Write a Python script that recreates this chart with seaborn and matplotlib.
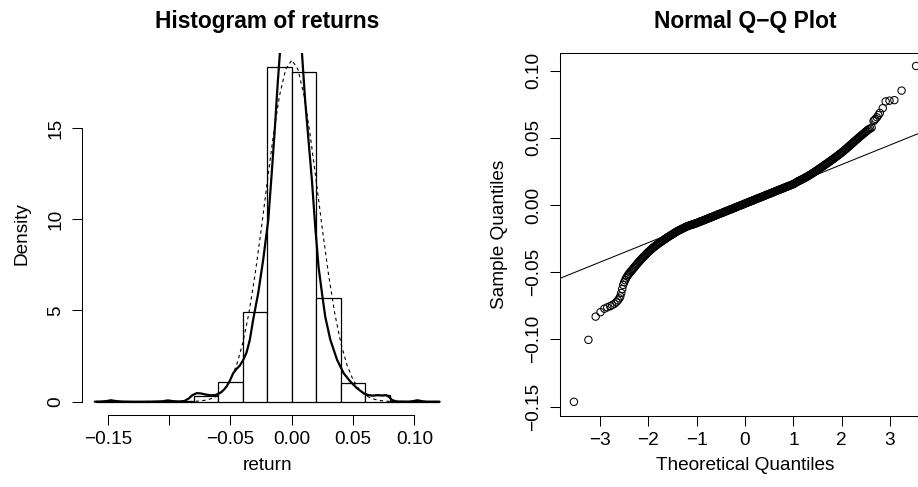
import matplotlib
matplotlib.use("Agg")
import matplotlib.pyplot as plt
import seaborn as sns

# =========================
# Data
# =========================
# histogram of returns: density per 0.02 bin
bin_edges = [-0.16, -0.14, -0.12, -0.10, -0.08, -0.06, -0.04, -0.02,
             0.00, 0.02, 0.04, 0.06, 0.08, 0.10, 0.12]
bin_mids = [-0.15, -0.13, -0.11, -0.09, -0.07, -0.05, -0.03, -0.01,
            0.01, 0.03, 0.05, 0.07, 0.09, 0.11]
bin_density = [0.02, 0.0, 0.02, 0.02, 0.33, 1.06, 4.93, 18.37,
               18.06, 5.67, 1.04, 0.37, 0.02, 0.02]

# kernel density estimate (solid line)
kde_x = [-0.1607, -0.155, -0.1505, -0.1475, -0.144, -0.139, -0.130, -0.115,
         -0.106, -0.101, -0.097, -0.092, -0.0875, -0.084, -0.081, -0.0775,
         -0.074, -0.070, -0.066, -0.062, -0.058, -0.0555, -0.0533, -0.0505,
         -0.0479, -0.045, -0.0424, -0.0395, -0.0369, -0.0342, -0.0315, -0.0274,
         -0.0233, -0.0192, -0.0164, -0.0137, -0.0115, -0.0096, -0.007, -0.004,
         -0.001, 0.002, 0.005, 0.0082, 0.0109, 0.0136, 0.0164, 0.0191,
         0.0218, 0.0246, 0.0273, 0.0314, 0.0369, 0.0423, 0.0478, 0.0533,
         0.0587, 0.0620, 0.066, 0.070, 0.074, 0.077, 0.0795, 0.082,
         0.086, 0.095, 0.099, 0.1025, 0.106, 0.110, 0.1205]
kde_y = [0.0, 0.01, 0.04, 0.08, 0.04, 0.01, 0.0, 0.0,
         0.02, 0.07, 0.03, 0.01, 0.04, 0.18, 0.36, 0.47,
         0.45, 0.39, 0.35, 0.37, 0.50, 0.65, 0.82, 1.15,
         1.55, 1.80, 1.98, 2.30, 2.70, 3.40, 4.50, 5.95,
         7.80, 9.95, 12.5, 15.1, 17.45, 19.2, 21.4, 23.0,
         23.6, 23.4, 22.0, 19.2, 16.5, 14.35, 12.15, 9.6,
         7.4, 5.95, 4.65, 3.4, 2.3, 1.56, 1.10, 0.73,
         0.46, 0.37, 0.33, 0.36, 0.34, 0.36, 0.25, 0.08,
         0.01, 0.0, 0.03, 0.08, 0.03, 0.0, 0.0]

# fitted normal density (dashed line)
norm_x = [-0.16, -0.09, -0.08, -0.075, -0.07, -0.065, -0.06, -0.055, -0.05,
          -0.045, -0.04, -0.035, -0.03, -0.025, -0.02, -0.015, -0.01, -0.005,
          0.0, 0.005, 0.01, 0.015, 0.02, 0.025, 0.03, 0.035, 0.04, 0.045,
          0.05, 0.055, 0.06, 0.065, 0.07, 0.075, 0.08, 0.09, 0.12]
norm_y = [0.0, 0.002, 0.016, 0.038, 0.085, 0.18, 0.35, 0.67, 1.19,
          2.01, 3.21, 4.85, 6.95, 9.41, 12.05, 14.62, 16.78, 18.22,
          18.73, 18.22, 16.78, 14.62, 12.05, 9.41, 6.95, 4.85, 3.21, 2.01,
          1.19, 0.67, 0.35, 0.18, 0.085, 0.038, 0.016, 0.002, 0.0]

# normal Q-Q plot: theoretical vs sample quantiles
qq_theoretical = [
    -3.54, -3.24, -3.09, -2.99, -2.91, -2.85, -2.79, -2.75, -2.70, -2.66,
    -2.63, -2.60, -2.58, -2.56, -2.54, -2.52, -2.50, -2.48, -2.46, -2.44,
    -2.42, -2.40, -2.38, -2.36, -2.34, -2.32,
    -2.30, -2.28, -2.26, -2.24, -2.22, -2.20, -2.18, -2.16, -2.14, -2.12,
    -2.10, -2.08, -2.06, -2.04, -2.02, -2.00, -1.98, -1.96, -1.94, -1.92,
    -1.90, -1.88, -1.86, -1.84, -1.82, -1.80, -1.78, -1.76, -1.74, -1.72,
    -1.70, -1.68, -1.66, -1.64, -1.62, -1.60, -1.58, -1.56, -1.54, -1.52,
    -1.50, -1.48, -1.46, -1.44, -1.42, -1.40, -1.38, -1.36, -1.34, -1.32,
    -1.30, -1.28, -1.26, -1.24, -1.22, -1.20, -1.18, -1.16, -1.14, -1.12,
    -1.10, -1.08, -1.06, -1.04, -1.02, -1.00, -0.98, -0.96, -0.94, -0.92,
    -0.90, -0.88, -0.86, -0.84, -0.82, -0.80, -0.78, -0.76, -0.74, -0.72,
    -0.70, -0.68, -0.66, -0.64, -0.62, -0.60, -0.58, -0.56, -0.54, -0.52,
    -0.50, -0.48, -0.46, -0.44, -0.42, -0.40, -0.38, -0.36, -0.34, -0.32,
    -0.30, -0.28, -0.26, -0.24, -0.22, -0.20, -0.18, -0.16, -0.14, -0.12,
    -0.10, -0.08, -0.06, -0.04, -0.02, 0.00, 0.02, 0.04, 0.06, 0.08,
    0.10, 0.12, 0.14, 0.16, 0.18, 0.20, 0.22, 0.24, 0.26, 0.28,
    0.30, 0.32, 0.34, 0.36, 0.38, 0.40, 0.42, 0.44, 0.46, 0.48,
    0.50, 0.52, 0.54, 0.56, 0.58, 0.60, 0.62, 0.64, 0.66, 0.68,
    0.70, 0.72, 0.74, 0.76, 0.78, 0.80, 0.82, 0.84, 0.86, 0.88,
    0.90, 0.92, 0.94, 0.96, 0.98, 1.00, 1.02, 1.04, 1.06, 1.08,
    1.10, 1.12, 1.14, 1.16, 1.18, 1.20, 1.22, 1.24, 1.26, 1.28,
    1.30, 1.32, 1.34, 1.36, 1.38, 1.40, 1.42, 1.44, 1.46, 1.48,
    1.50, 1.52, 1.54, 1.56, 1.58, 1.60, 1.62, 1.64, 1.66, 1.68,
    1.70, 1.72, 1.74, 1.76, 1.78, 1.80, 1.82, 1.84, 1.86, 1.88,
    1.90, 1.92, 1.94, 1.96, 1.98, 2.00, 2.02, 2.04, 2.06, 2.08,
    2.10, 2.12, 2.14, 2.16, 2.18, 2.20, 2.22, 2.24, 2.26, 2.28,
    2.30, 2.32, 2.34, 2.36, 2.38, 2.40, 2.42, 2.44, 2.46, 2.48,
    2.50, 2.52, 2.54, 2.56,
    2.59, 2.62, 2.66, 2.68, 2.70, 2.73, 2.76, 2.79, 2.85, 2.91,
    2.99, 3.09, 3.24, 3.54]
qq_sample = [
    -0.1465, -0.1004, -0.0831, -0.0798, -0.0772, -0.0762, -0.0753, -0.0745, -0.0735, -0.0722,
    -0.0710, -0.0695, -0.0680, -0.0655, -0.0625, -0.0595, -0.0575, -0.0560, -0.0545, -0.0532,
    -0.0522, -0.0512, -0.0502, -0.0494, -0.0486, -0.0477,
    -0.0468, -0.0459, -0.0451, -0.0442, -0.0434, -0.0425, -0.0417, -0.0409, -0.0402, -0.0394,
    -0.0386, -0.0379, -0.0372, -0.0364, -0.0357, -0.0350, -0.0344, -0.0337, -0.0331, -0.0324,
    -0.0318, -0.0312, -0.0307, -0.0301, -0.0296, -0.0290, -0.0285, -0.0280, -0.0275, -0.0270,
    -0.0265, -0.0260, -0.0255, -0.0250, -0.0245, -0.0240, -0.0236, -0.0231, -0.0227, -0.0222,
    -0.0218, -0.0213, -0.0209, -0.0204, -0.0200, -0.0195, -0.0191, -0.0188, -0.0184, -0.0181,
    -0.0177, -0.0173, -0.0170, -0.0166, -0.0163, -0.0159, -0.0157, -0.0154, -0.0152, -0.0149,
    -0.0147, -0.0145, -0.0142, -0.0140, -0.0137, -0.0135, -0.0132, -0.0129, -0.0126, -0.0123,
    -0.0120, -0.0118, -0.0115, -0.0112, -0.0109, -0.0106, -0.0103, -0.0100, -0.0097, -0.0094,
    -0.0092, -0.0089, -0.0086, -0.0083, -0.0080, -0.0077, -0.0074, -0.0071, -0.0068, -0.0065,
    -0.0063, -0.0060, -0.0057, -0.0054, -0.0051, -0.0048, -0.0045, -0.0042, -0.0039, -0.0036,
    -0.0034, -0.0031, -0.0028, -0.0025, -0.0022, -0.0019, -0.0016, -0.0013, -0.0010, -0.0007,
    -0.0005, -0.0002, 0.0001, 0.0004, 0.0007, 0.0010, 0.0013, 0.0016, 0.0019, 0.0022,
    0.0025, 0.0027, 0.0030, 0.0033, 0.0036, 0.0039, 0.0042, 0.0045, 0.0048, 0.0051,
    0.0054, 0.0056, 0.0059, 0.0062, 0.0065, 0.0068, 0.0071, 0.0074, 0.0077, 0.0080,
    0.0083, 0.0085, 0.0088, 0.0091, 0.0094, 0.0097, 0.0100, 0.0103, 0.0106, 0.0109,
    0.0112, 0.0114, 0.0117, 0.0120, 0.0123, 0.0126, 0.0129, 0.0132, 0.0135, 0.0138,
    0.0141, 0.0143, 0.0146, 0.0149, 0.0152, 0.0155, 0.0159, 0.0163, 0.0168, 0.0172,
    0.0176, 0.0180, 0.0183, 0.0187, 0.0190, 0.0194, 0.0198, 0.0202, 0.0206, 0.0210,
    0.0214, 0.0218, 0.0223, 0.0227, 0.0232, 0.0236, 0.0241, 0.0246, 0.0250, 0.0255,
    0.0260, 0.0265, 0.0270, 0.0275, 0.0280, 0.0285, 0.0290, 0.0295, 0.0300, 0.0305,
    0.0310, 0.0315, 0.0320, 0.0326, 0.0331, 0.0336, 0.0341, 0.0346, 0.0352, 0.0357,
    0.0362, 0.0368, 0.0373, 0.0379, 0.0384, 0.0390, 0.0396, 0.0402, 0.0408, 0.0414,
    0.0420, 0.0426, 0.0433, 0.0439, 0.0446, 0.0452, 0.0458, 0.0465, 0.0471, 0.0478,
    0.0484, 0.0490, 0.0496, 0.0503, 0.0509, 0.0515, 0.0521, 0.0527, 0.0533, 0.0539,
    0.0545, 0.0551, 0.0557, 0.0563,
    0.0568, 0.0575, 0.0625, 0.0632, 0.0640, 0.0652, 0.0668, 0.0685, 0.0720, 0.0770,
    0.0776, 0.0780, 0.0851, 0.1034]

# reference line through the quartiles
qq_line_t = [-0.6745, 0.6745]
qq_line_s = [-0.0088, 0.0108]

# ticks
hist_xticks = [-0.15, -0.10, -0.05, 0.00, 0.05, 0.10]
hist_xlabels = ["\u22120.15", "", "\u22120.05", "0.00", "0.05", "0.10"]
hist_yticks = [0, 5, 10, 15]
hist_ylabels = ["0", "5", "10", "15"]
qq_xticks = [-3, -2, -1, 0, 1, 2, 3]
qq_xlabels = ["\u22123", "\u22122", "\u22121", "0", "1", "2", "3"]
qq_yticks = [-0.15, -0.10, -0.05, 0.00, 0.05, 0.10]
qq_ylabels = ["\u22120.15", "\u22120.10", "\u22120.05", "0.00", "0.05", "0.10"]

# =========================
# Style
# =========================
sns.set_style("ticks")
plt.rcParams["font.family"] = ["Liberation Sans", "DejaVu Sans"]
plt.rcParams["text.color"] = "black"
plt.rcParams["axes.labelcolor"] = "black"
plt.rcParams["axes.linewidth"] = 0.75
plt.rcParams["axes.edgecolor"] = "black"
plt.rcParams["xtick.major.size"] = 7.2
plt.rcParams["ytick.major.size"] = 7.2
plt.rcParams["xtick.major.width"] = 0.75
plt.rcParams["ytick.major.width"] = 0.75
plt.rcParams["xtick.color"] = "black"
plt.rcParams["ytick.color"] = "black"
plt.rcParams["xtick.labelcolor"] = "black"
plt.rcParams["ytick.labelcolor"] = "black"

FS = 13.7
TFS = 16.4

fig = plt.figure(figsize=(9.18, 4.87), dpi=100)
ax1 = fig.add_axes([0.0892, 0.1476, 0.4039, 0.7444])
ax2 = fig.add_axes([0.6097, 0.1465, 0.4037, 0.7442])

# =========================
# Left: histogram + densities
# =========================
sns.histplot(ax=ax1, x=bin_mids, weights=bin_density, bins=bin_edges, stat="count",
             color="white", edgecolor="black", linewidth=0.9, alpha=1)
sns.lineplot(ax=ax1, x=norm_x, y=norm_y, color="black", linewidth=0.8,
             linestyle=(0, (3, 3)), estimator=None)
sns.lineplot(ax=ax1, x=kde_x, y=kde_y, color="black", linewidth=1.6, estimator=None)

ax1.set_xlim(-0.1712, 0.1312)
ax1.set_ylim(-0.736, 19.136)
ax1.spines["top"].set_visible(False)
ax1.spines["right"].set_visible(False)
ax1.spines["left"].set_bounds(0, 15)
ax1.spines["bottom"].set_bounds(-0.15, 0.10)
ax1.set_xticks(hist_xticks)
ax1.set_xticklabels(hist_xlabels, fontsize=FS)
ax1.set_yticks(hist_yticks)
ax1.set_yticklabels(hist_ylabels, fontsize=FS, rotation=90, va="center")
ax1.tick_params(axis="x", pad=4.5)
ax1.tick_params(axis="y", pad=5.5)
ax1.set_title("Histogram of returns", fontsize=TFS, fontweight="bold", pad=18)
ax1.set_xlabel("return", fontsize=FS)
ax1.set_ylabel("Density", fontsize=FS)
ax1.xaxis.set_label_coords(0.5, -0.115)
ax1.yaxis.set_label_coords(-0.138, 0.5)

# =========================
# Right: normal Q-Q plot
# =========================
sns.scatterplot(ax=ax2, x=qq_theoretical, y=qq_sample, marker="o", s=28,
                facecolors="none", edgecolor="black", linewidth=0.75)
ax2.axline((qq_line_t[0], qq_line_s[0]), (qq_line_t[1], qq_line_s[1]),
           color="black", linewidth=0.75)

ax2.set_xlim(-3.834, 3.834)
ax2.set_ylim(-0.1568, 0.1129)
ax2.set_xticks(qq_xticks)
ax2.set_xticklabels(qq_xlabels, fontsize=FS)
ax2.set_yticks(qq_yticks)
ax2.set_yticklabels(qq_ylabels, fontsize=FS, rotation=90, va="center")
ax2.tick_params(axis="x", pad=4.5)
ax2.tick_params(axis="y", pad=5.5)
ax2.set_title("Normal Q\u2212Q Plot", fontsize=TFS, fontweight="bold", pad=18)
ax2.set_xlabel("Theoretical Quantiles", fontsize=FS)
ax2.set_ylabel("Sample Quantiles", fontsize=FS)
ax2.xaxis.set_label_coords(0.5, -0.115)
ax2.yaxis.set_label_coords(-0.140, 0.5)

plt.savefig("out.png", dpi=100)
plt.close()
